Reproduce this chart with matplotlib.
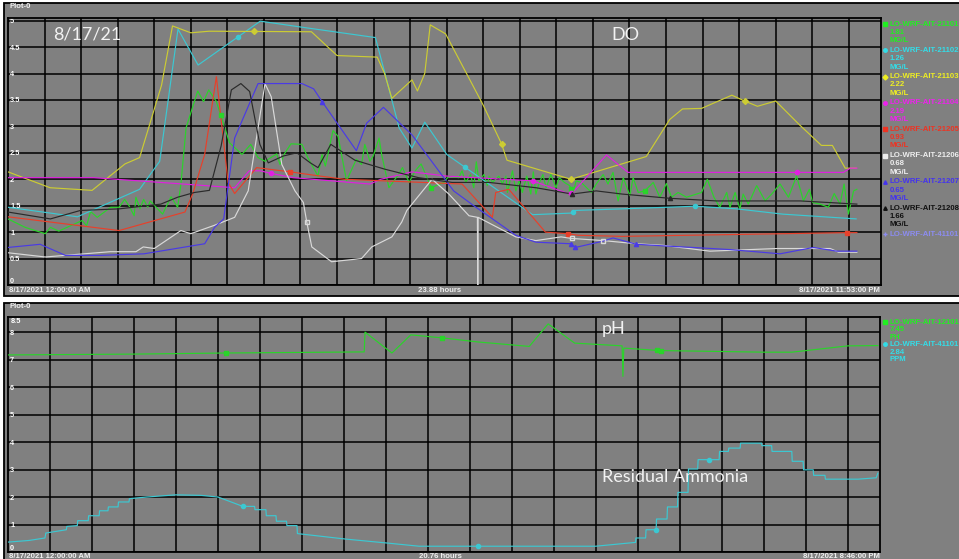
import numpy as np
import matplotlib.pyplot as plt
from matplotlib.patches import Rectangle
from matplotlib.lines import Line2D

# hours after 8/17/2021 12:00 AM, value
do_green = [(0, 1.25), (0.47, 1.09), (1.02, 0.97), (1.16, 1.09), (1.39, 1.02), (2.03, 1.22), (2.15, 1.12),
            (2.26, 1.39), (2.44, 1.28), (2.81, 1.47), (3.04, 1.47), (3.19, 1.62), (3.31, 1.5), (3.45, 1.31),
            (3.5, 1.66), (3.61, 1.44), (3.71, 1.62), (3.82, 1.47), (3.89, 1.59), (4.23, 1.34), (4.46, 1.67),
            (4.64, 1.47), (4.73, 1.91), (4.87, 2.97), (5.19, 3.67), (5.35, 3.47), (5.49, 3.69), (5.7, 3.47),
            (5.82, 3.21), (6.06, 2.69), (6.4, 2.47), (6.64, 2.66), (6.84, 2.41), (7.03, 2.34), (7.35, 2.48),
            (7.44, 2.28), (7.56, 2.48), (7.74, 2.67), (8.04, 2.66), (8.2, 2.41), (8.48, 2.06), (8.59, 2.47),
            (8.68, 2.25), (8.89, 2.92), (9.03, 2.81), (9.26, 1.97), (9.53, 2.38), (9.67, 2.28), (9.76, 2.66),
            (9.9, 2.34), (9.99, 2.44), (10.15, 2.78), (10.22, 2.47), (10.42, 1.84), (10.68, 2.09), (10.79, 2.22),
            (10.97, 1.94), (11.14, 2.16), (11.3, 2.29), (11.58, 1.84), (11.92, 1.94), (12.06, 2.06), (12.33, 2.03),
            (12.42, 2.16), (12.52, 1.94), (12.65, 2.09), (12.74, 1.84), (12.81, 2.33), (12.88, 1.97), (13.02, 2.09),
            (13.11, 1.88), (13.16, 2.06), (13.25, 1.94), (13.43, 2.06), (13.52, 1.91), (13.62, 2.06), (13.66, 1.75),
            (13.8, 2.16), (13.89, 1.78), (13.98, 1.97), (14.07, 1.75), (14.19, 2.06), (14.3, 1.72), (14.37, 2.14),
            (14.44, 1.72), (14.52, 1.91), (14.63, 2.09), (14.72, 1.84), (14.85, 2.09), (14.99, 1.84), (15.08, 2.03),
            (15.22, 1.94), (15.36, 1.88), (15.45, 1.72), (15.54, 1.97), (15.68, 1.94), (15.96, 1.75), (16.09, 1.91),
            (16.28, 2.09), (16.41, 1.91), (16.55, 2.13), (16.69, 1.59), (16.83, 2.03), (17.01, 1.69), (17.1, 2.03),
            (17.24, 1.75), (17.42, 1.78), (17.65, 1.94), (17.83, 1.66), (18.01, 1.92), (18.15, 1.66), (18.33, 1.75),
            (18.56, 1.66), (18.97, 1.75), (19.13, 2.0), (19.31, 1.66), (19.47, 1.47), (19.66, 1.75), (19.75, 1.47),
            (19.89, 1.75), (20.02, 1.44), (20.11, 1.72), (20.25, 1.53), (20.48, 1.88), (20.71, 1.59), (20.89, 1.72),
            (21.12, 1.91), (21.35, 1.66), (21.57, 2.06), (21.76, 1.59), (21.92, 1.81), (22.01, 1.56), (22.21, 1.53),
            (22.44, 1.47), (22.6, 1.73), (22.76, 1.53), (22.87, 1.91), (22.99, 1.34), (23.13, 1.78), (23.22, 1.81)]
do_cyan = [(0, 1.47), (1.9, 1.29), (3.6, 1.81), (4.15, 2.34), (4.65, 4.84), (5.2, 4.16), (6.9, 4.99), (8.0, 4.88),
           (10.05, 4.68), (10.3, 4.03), (10.7, 2.97), (11.05, 2.59), (11.4, 3.08), (12.0, 2.47), (14.35, 1.33),
           (15.4, 1.36), (15.5, 1.41), (16.8, 1.44), (18.8, 1.49), (19.93, 1.44), (21.2, 1.34), (23.2, 1.25)]
do_yellow = [(0, 2.14), (1.15, 1.84), (2.3, 1.79), (3.2, 2.29), (3.6, 2.41), (4.2, 3.78), (4.5, 4.9), (5.0, 4.77),
             (5.5, 4.8), (8.3, 4.79), (9.0, 4.34), (10.1, 4.31), (10.3, 4.0), (10.5, 3.53), (11.05, 3.88),
             (11.2, 3.67), (11.4, 4.0), (11.55, 4.92), (11.97, 4.75), (13.0, 3.4), (13.5, 2.67), (13.65, 2.36),
             (15.4, 2.0), (17.46, 2.43), (18.1, 3.13), (18.45, 3.33), (18.97, 3.34), (19.8, 3.59), (20.15, 3.48),
             (20.5, 3.38), (21.0, 3.48), (21.65, 3.03), (22.25, 2.64), (22.55, 2.64), (22.9, 2.21), (23.2, 2.21)]
do_magenta = [(0, 2.03), (2.35, 2.03), (6.2, 1.84), (6.6, 2.16), (6.9, 2.16), (7.2, 2.11), (7.8, 2.03), (9.9, 1.91),
              (10.2, 2.0), (11.05, 2.14), (12.0, 2.06), (14.35, 1.97), (15.36, 1.72), (15.45, 1.75), (16.37, 2.46),
              (16.96, 2.13), (22.85, 2.13), (23.04, 2.21), (23.22, 2.21)]
do_red = [(0, 1.29), (3.04, 1.03), (4.84, 1.38), (5.05, 1.72), (5.38, 2.47), (5.7, 3.94), (6.02, 1.94), (6.2, 1.73),
          (6.8, 2.22), (7.72, 2.14), (8.54, 2.06), (9.2, 2.0), (12.42, 1.91), (13.25, 1.28), (13.34, 1.75),
          (13.7, 1.81), (14.7, 1.0), (15.31, 0.97), (15.6, 0.94), (16.8, 0.92), (22.94, 0.99), (23.22, 0.99)]
do_white = [(0, 0.61), (1.02, 0.53), (2.8, 0.63), (3.5, 0.63), (3.7, 0.72), (4.0, 0.69), (4.73, 1.03), (5.0, 0.97),
            (5.65, 1.13), (6.2, 1.28), (6.57, 1.78), (7.03, 3.81), (7.2, 3.56), (7.49, 2.28), (7.85, 1.78),
            (8.08, 1.56), (8.17, 1.2), (8.31, 0.72), (8.85, 0.44), (9.67, 0.5), (9.95, 0.72), (10.5, 0.91),
            (10.77, 1.19), (10.91, 1.41), (11.6, 2.0), (12.06, 1.72), (12.61, 1.31), (12.84, 1.28), (12.85, 0.0),
            (12.86, 1.28), (13.89, 0.91), (14.44, 0.84), (15.13, 0.91), (15.43, 0.88), (16.28, 0.84), (17.19, 0.78),
            (17.92, 0.75), (19.2, 0.64), (21.03, 0.69), (22.49, 0.69), (22.72, 0.62), (23.22, 0.62)]
do_blue = [(0, 0.71), (0.88, 0.77), (1.57, 0.56), (2.53, 0.56), (3.72, 0.59), (5.38, 0.78), (5.65, 1.09), (5.9, 1.25),
           (6.2, 2.78), (6.84, 3.81), (8.04, 3.81), (8.36, 3.71), (8.59, 3.47), (9.53, 2.54), (9.81, 3.06),
           (10.27, 3.36), (11.05, 2.84), (12.19, 1.78), (12.74, 1.5), (13.89, 0.94), (14.44, 0.81), (15.4, 0.78),
           (15.52, 0.71), (16.28, 0.83), (16.55, 0.89), (17.19, 0.77), (17.92, 0.74), (18.74, 0.71), (19.75, 0.67),
           (21.12, 0.59), (22.03, 0.71), (22.67, 0.64), (23.22, 0.64)]
do_black = [(0, 1.38), (1.16, 1.25), (1.98, 1.41), (3.04, 1.44), (4.18, 1.53), (4.64, 1.66), (5.1, 1.75), (5.51, 1.79),
            (5.83, 2.63), (6.11, 3.69), (6.37, 3.81), (6.61, 3.66), (6.89, 2.66), (7.12, 2.31), (7.53, 2.44),
            (7.9, 2.5), (8.27, 2.31), (8.48, 2.22), (8.83, 2.66), (9.49, 2.36), (10.31, 2.19), (11.23, 2.03),
            (12.15, 1.94), (13.16, 1.94), (14.44, 1.84), (15.43, 1.72), (16.09, 1.78), (16.8, 1.72), (18.1, 1.64),
            (19.38, 1.59), (21.67, 1.59), (23.22, 1.53)]

ph_green = [(0, 7.17), (2.98, 7.2), (5.19, 7.24), (8.48, 7.28), (8.5, 8.0), (9.14, 7.24), (9.59, 7.9), (10.34, 7.79),
            (11.2, 7.64), (12.41, 7.48), (12.86, 8.3), (13.49, 7.6), (14.62, 7.5), (14.64, 6.39), (14.66, 7.42),
            (15.49, 7.33), (18.02, 7.27), (18.66, 7.27), (20.0, 7.5), (20.71, 7.51)]
nh3_cyan = [(0, 0.36), (0.5, 0.42), (0.88, 0.51), (0.9, 0.69), (1.39, 0.81), (1.4, 0.93), (1.65, 0.96), (1.66, 1.14),
            (1.91, 1.14), (1.92, 1.32), (2.17, 1.32), (2.18, 1.5), (2.38, 1.5), (2.39, 1.64), (2.62, 1.64),
            (2.63, 1.82), (2.88, 1.82), (2.89, 1.94), (3.3, 2.0), (4.0, 2.08), (4.6, 2.06), (5.0, 2.0), (5.59, 1.66),
            (5.87, 1.66), (5.88, 1.54), (6.14, 1.54), (6.15, 1.32), (6.38, 1.32), (6.39, 1.12), (6.63, 1.12),
            (6.64, 0.96), (6.88, 0.96), (6.89, 0.67), (8.04, 0.47), (9.0, 0.33), (9.79, 0.21), (11.2, 0.21),
            (13.99, 0.21), (14.94, 0.35), (14.95, 0.51), (15.18, 0.51), (15.19, 0.81), (15.43, 0.81), (15.44, 1.2),
            (15.69, 1.2), (15.7, 1.64), (15.94, 1.64), (15.95, 2.17), (16.19, 2.17), (16.2, 3.02), (16.42, 3.02),
            (16.43, 3.36), (16.93, 3.36), (16.94, 3.66), (17.15, 3.66), (17.16, 3.78), (17.43, 3.78), (17.44, 3.96),
            (17.94, 3.96), (17.95, 3.87), (18.18, 3.87), (18.19, 3.66), (18.66, 3.66), (18.67, 3.3), (18.93, 3.3),
            (18.94, 2.99), (19.17, 2.99), (19.18, 2.79), (19.45, 2.79), (19.46, 2.65), (20.24, 2.65), (20.67, 2.7),
            (20.71, 2.87)]

# tag, last value, unit, line colour, text colour, marker, data, marker hours
do_series = [
    ("LO-WRF-AIT-21101", "1.81", "MG/L", "#2ad42a", "#22ee22", "s", do_green, [5.82, 11.58, 15.4, 17.42]),
    ("LO-WRF-AIT-21102", "1.26", "MG/L", "#3cc8d2", "#33dde8", "o", do_cyan, [6.3, 12.5, 15.45, 18.8]),
    ("LO-WRF-AIT-21103", "2.22", "MG/L", "#cccc33", "#eeee22", "D", do_yellow, [6.73, 13.5, 15.4, 20.15]),
    ("LO-WRF-AIT-21104", "2.19", "MG/L", "#e020e0", "#ee22ee", "o", do_magenta, [7.2, 14.35, 15.4, 21.57]),
    ("LO-WRF-AIT-21205", "0.93", "MG/L", "#e8402a", "#ee3322", "s", do_red, [7.72, 15.31, 22.94]),
    ("LO-WRF-AIT-21206", "0.68", "MG/L", "#d9d9d9", "#eeeeee", "s", do_white, [8.17, 15.43, 16.28]),
    ("LO-WRF-AIT-21207", "0.65", "MG/L", "#4a3ae6", "#4433ee", "^", do_blue, [8.59, 15.4, 15.52, 17.19]),
    ("LO-WRF-AIT-21208", "1.66", "MG/L", "#2a2a2a", "#111111", "^", do_black, [15.43, 18.1]),
]
bottom_series = [
    ("LO-WRF-AIT-12101", "7.45", "PH", "#2ad42a", "#22ee22", "s", ph_green, [5.19, 10.34, 15.45, 15.55]),
    ("LO-WRF-AIT-41101", "2.84", "PPM", "#3cc8d2", "#33dde8", "o", nh3_cyan, [5.59, 11.2, 15.42, 16.7]),
]

W, H = 959, 559
GREY = "#808080"
SMALL = dict(family="Liberation Sans", fontweight="bold", fontsize=5.6)


def box(x0, y0, x1, y1):
    return [x0 / W, 1 - y1 / H, (x1 - x0) / W, (y1 - y0) / H]


def fpos(x, y):
    return x / W, 1 - y / H


fig = plt.figure(figsize=(W / 100, H / 100), dpi=100)
fig.patch.set_facecolor("white")
for rect in (box(4, 3, 964, 296), box(4, 303, 964, 563)):
    fig.add_artist(Rectangle(rect[:2], rect[2], rect[3], transform=fig.transFigure,
                             facecolor=GREY, edgecolor="black", lw=1.3, zorder=-5))

ax1 = fig.add_axes(box(8, 18, 881, 285))
ax2 = fig.add_axes(box(8, 317, 880, 552))


def style(ax, xmax, ymax, ystep, labels):
    ax.set_facecolor(GREY)
    ax.set_xlim(0, xmax)
    ax.set_ylim(0, ymax)
    ax.set_xticks(np.arange(1, int(xmax) + 1))
    ax.set_xticklabels([])
    ticks = np.arange(0, ymax + 1e-6, ystep)
    ax.set_yticks(ticks, labels[:len(ticks)])
    ax.tick_params(length=0)
    ax.tick_params(axis="y", pad=-1.5, labelcolor="white", labelsize=5.3)
    for lab in ax.get_yticklabels():
        lab.set_ha("left")
        lab.set_family("Liberation Sans")
        lab.set_fontweight("bold")
    ax.get_yticklabels()[0].set_va("bottom")
    ax.grid(True, color="black", lw=1.1)
    for s in ax.spines.values():
        s.set_color("black")
        s.set_linewidth(1.3)


style(ax1, 23.88, 5.05, 0.5, ["0", "0.5", "1", "1.5", "2", "2.5", "3", "3.5", "4", "4.5", "5"])
style(ax2, 20.76, 8.55, 1, ["0", "1", "2", "3", "4", "5", "6", "7", "8"])
ax2.text(0.003, 0.995, "8.5", transform=ax2.transAxes, color="white", va="top",
         family="Liberation Sans", fontweight="bold", fontsize=5.3)


def draw(ax, series, y0, dy, step):
    for i, (tag, val, unit, lc, tc, mk, data, marks) in enumerate(series):
        h, v = zip(*data)
        ax.plot(h, v, color=lc, lw=0.85, zorder=3)
        ax.plot(marks, np.interp(marks, h, v), ls="none", marker=mk, ms=3, color=lc,
                mfc=("none" if lc == "#d9d9d9" else lc), zorder=4)
        y = y0 + i * step
        fig.add_artist(Line2D([885 / W], [1 - y / H], marker=mk, ms=2.5, color=tc,
                              transform=fig.transFigure))
        for k, t in enumerate((tag, val, unit)):
            fig.text(*fpos(890, y + k * dy), t, color=tc, va="center", **SMALL)


draw(ax1, do_series, 24, 8.4, 26.3)
draw(ax2, bottom_series, 322, 7.6, 22.4)

y = 24 + 8 * 26.3
fig.add_artist(Line2D([885 / W], [1 - y / H], marker="+", ms=3, color="#8c8cf0", transform=fig.transFigure))
fig.text(*fpos(890, y), "LO-WRF-AIT-41101", color="#8c8cf0", va="center", **SMALL)

# strip captions
for yy, span, end in ((7, None, None), (290.5, "23.88 hours", "8/17/2021 11:53:00 PM"),
                      (306, None, None), (556, "20.76 hours", "8/17/2021 8:46:00 PM")):
    if span is None:
        fig.text(*fpos(9, yy), "Plot-0", color="#eeeeee", va="center", **SMALL)
    else:
        fig.text(*fpos(9, yy), "8/17/2021 12:00:00 AM", color="#eeeeee", va="center", **SMALL)
        fig.text(*fpos(440, yy), span, color="#eeeeee", va="center", ha="center", **SMALL)
        fig.text(*fpos(880, yy), end, color="#eeeeee", va="center", ha="right", **SMALL)

BIG = dict(family="Lato", fontsize=13, color="#f2f2f2", va="center")
fig.text(*fpos(53, 35), "8/17/21", **BIG)
fig.text(*fpos(611, 35), "DO", **BIG)
fig.text(*fpos(602, 329), "pH", **BIG)
fig.text(*fpos(602, 477), "Residual Ammonia", **BIG)

fig.savefig("out.png", dpi=100, facecolor="white")
